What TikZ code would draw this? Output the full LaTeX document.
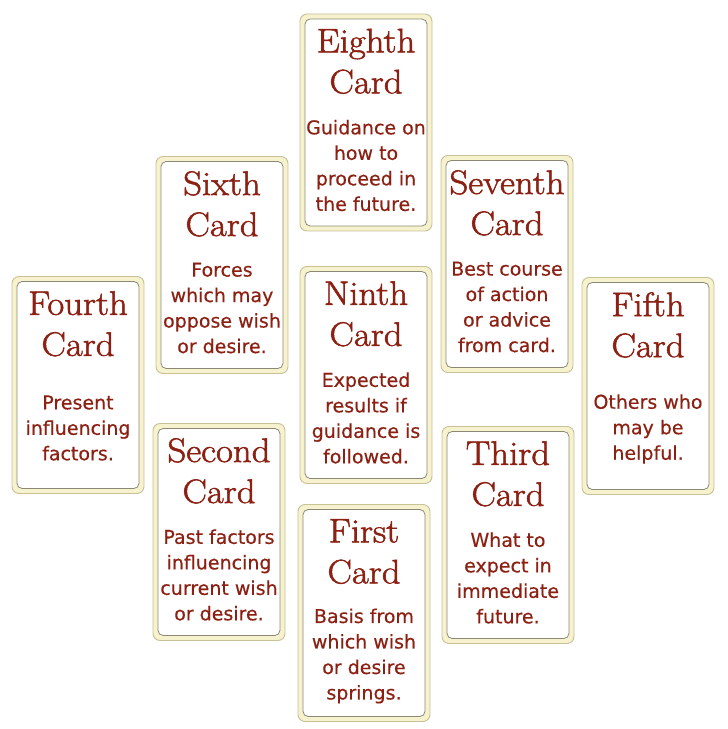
\documentclass[tikz,border=0pt]{standalone}
\usepackage{fontspec}
\usepackage{tikz}
\usetikzlibrary{positioning}
\newfontfamily\bodyfont{DejaVu Sans}[FakeBold=0.4]
\newfontfamily\titlefont{Latin Modern Roman}[FakeBold=1.6,FakeStretch=1.08]
\definecolor{cardred}{RGB}{140,32,18}
\definecolor{cardcream}{RGB}{246,242,206}
\definecolor{cardedge}{RGB}{200,192,150}
\definecolor{cardline}{RGB}{140,136,118}
\tikzset{
	card/.style={shape=rectangle,rounded corners=7pt,draw=cardedge,line width=0.9pt,fill=cardcream,minimum width=132pt,minimum height=217pt,inner sep=0pt},
	cardtitle/.style={align=center,inner sep=0pt,text=cardred,font=\titlefont\fontsize{34}{41}\selectfont},
	cardtext/.style={align=center,inner sep=0pt,text=cardred,font=\bodyfont\fontsize{19}{25.5}\selectfont},
	cardinner/.style={draw=cardline,fill=white,line width=0.8pt,rounded corners=5pt}
}
\newcommand{\cardface}[1]{\draw[cardinner] ([shift={(5.5pt,-5.5pt)}]#1.north west) rectangle ([shift={(-5.5pt,5.5pt)}]#1.south east);}

\begin{document}
\begin{tikzpicture}[x=1pt,y=1pt]
	\useasboundingbox (0,0) rectangle (728,729);

	\node[card] (eighth)  at (366,606.5) {};
	\node[card] (sixth)   at (222,464)   {};
	\node[card] (seventh) at (507,465)   {};
	\node[card] (fourth)  at (78,344)    {};
	\node[card] (ninth)   at (366,354)   {};
	\node[card] (fifth)   at (648,343)   {};
	\node[card] (second)  at (219,197)   {};
	\node[card] (third)   at (508,194)   {};
	\node[card] (first)   at (364,116)   {};

	\cardface{eighth}
	\cardface{sixth}
	\cardface{seventh}
	\cardface{fourth}
	\cardface{ninth}
	\cardface{fifth}
	\cardface{second}
	\cardface{third}
	\cardface{first}

	\node[cardtitle, below=15pt of eighth.north]  (eighthT)  {Eighth\\Card};
	\node[cardtitle, below=15pt of sixth.north]   (sixthT)   {Sixth\\Card};
	\node[cardtitle, below=15pt of seventh.north] (seventhT) {Seventh\\Card};
	\node[cardtitle, below=15pt of fourth.north]  (fourthT)  {Fourth\\Card};
	\node[cardtitle, below=15pt of ninth.north]   (ninthT)   {Ninth\\Card};
	\node[cardtitle, below=15pt of fifth.north]   (fifthT)   {Fifth\\Card};
	\node[cardtitle, below=15pt of second.north]  (secondT)  {Second\\Card};
	\node[cardtitle, below=15pt of third.north]   (thirdT)   {Third\\Card};
	\node[cardtitle, below=15pt of first.north]   (firstT)   {First\\Card};

	\node[cardtext] (eighthB)  at ([yshift=-43pt]eighth.center)  {Guidance on\\how to\\proceed in\\the future.};
	\node[cardtext] (sixthB)   at ([yshift=-43pt]sixth.center)   {Forces\\which may\\oppose wish\\or desire.};
	\node[cardtext] (seventhB) at ([yshift=-43pt]seventh.center) {Best course\\of action\\or advice\\from card.};
	\node[cardtext] (fourthB)  at ([yshift=-43pt]fourth.center)  {Present\\influencing\\factors.};
	\node[cardtext] (ninthB)   at ([yshift=-43pt]ninth.center)   {Expected\\results if\\guidance is\\followed.};
	\node[cardtext] (fifthB)   at ([yshift=-43pt]fifth.center)   {Others who\\may be\\helpful.};
	\node[cardtext] (secondB)  at ([yshift=-43pt]second.center)  {Past factors\\influencing\\current wish\\or desire.};
	\node[cardtext] (thirdB)   at ([yshift=-43pt]third.center)   {What to\\expect in\\immediate\\future.};
	\node[cardtext] (firstB)   at ([yshift=-43pt]first.center)   {Basis from\\which wish\\or desire\\springs.};
\end{tikzpicture}
\end{document}
